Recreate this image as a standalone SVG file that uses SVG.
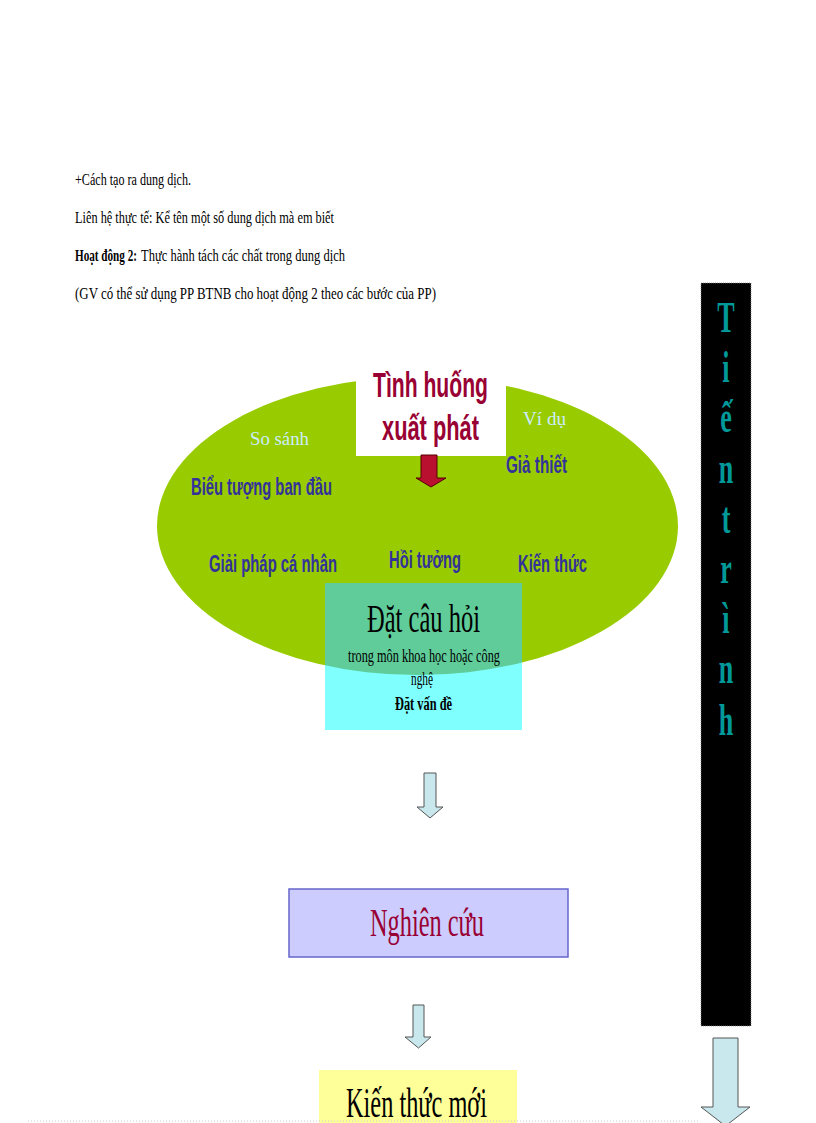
<svg xmlns="http://www.w3.org/2000/svg" width="816" height="1123" viewBox="0 0 816 1123">
<defs>
<style>
.serif{font-family:"Liberation Serif","Times New Roman",serif;}
.narrow{font-family:"Liberation Sans Narrow","Liberation Sans",Arial,sans-serif;font-weight:bold;}
.top{font-size:16.5px;fill:#000;}
.lbl{font-size:23px;fill:#333399;}
.soft{font-size:19px;fill:#CCECFF;}
.arrow{fill:#C8E8EE;stroke:#555;stroke-width:1;}
.letter{font-size:45px;fill:#009999;text-anchor:middle;font-weight:bold;}
</style>
<clipPath id="ellClip"><ellipse cx="417.5" cy="526" rx="260.5" ry="149"/></clipPath>
</defs>
<rect width="816" height="1123" fill="#fff"/>

<g id="intro-text" class="serif top">
<text x="75" y="185" textLength="116" lengthAdjust="spacingAndGlyphs">+Cách tạo ra dung dịch.</text>
<text x="75" y="223" textLength="259" lengthAdjust="spacingAndGlyphs">Liên hệ thực tế: Kể tên một số dung dịch mà em biết</text>
<text x="75" y="261" font-weight="bold" textLength="62" lengthAdjust="spacingAndGlyphs">Hoạt động 2:</text>
<text x="141" y="261" textLength="204" lengthAdjust="spacingAndGlyphs">Thực hành tách các chất trong dung dịch</text>
<text x="75" y="299" textLength="361" lengthAdjust="spacingAndGlyphs">(GV có thể sử dụng PP BTNB cho hoạt động 2 theo các bước của PP)</text>
</g>

<g id="ellipse-node">
<ellipse cx="417.5" cy="526" rx="260.5" ry="149" fill="#99CC00"/>
<text class="serif soft" x="250" y="445" textLength="59" lengthAdjust="spacingAndGlyphs">So sánh</text>
<text class="serif soft" x="523" y="425" textLength="43" lengthAdjust="spacingAndGlyphs">Ví dụ</text>
<text class="narrow lbl" x="191" y="495" textLength="141" lengthAdjust="spacingAndGlyphs">Biểu tượng ban đầu</text>
<text class="narrow lbl" x="506" y="473" textLength="61" lengthAdjust="spacingAndGlyphs">Giả thiết</text>
<text class="narrow lbl" x="209" y="572" textLength="128" lengthAdjust="spacingAndGlyphs">Giải pháp cá nhân</text>
<text class="narrow lbl" x="389" y="568" textLength="72" lengthAdjust="spacingAndGlyphs">Hồi tưởng</text>
<text class="narrow lbl" x="518" y="572" textLength="69" lengthAdjust="spacingAndGlyphs">Kiến thức</text>
</g>

<g id="start-node">
<rect x="356" y="352" width="150" height="104" fill="#fff"/>
<text class="narrow" x="373" y="397" font-size="35" fill="#990033" textLength="115" lengthAdjust="spacingAndGlyphs">Tình huống</text>
<text class="narrow" x="382" y="440" font-size="35" fill="#990033" textLength="97" lengthAdjust="spacingAndGlyphs">xuất phát</text>
</g>

<g id="question-node">
<rect x="325" y="583" width="197" height="147" fill="#80FFFF"/>
<rect x="325" y="583" width="197" height="147" fill="#5FCC99" clip-path="url(#ellClip)"/>
<text class="serif" x="367" y="632" font-size="40" fill="#000" textLength="113" lengthAdjust="spacingAndGlyphs">Đặt câu hỏi</text>
<text class="serif" x="348" y="662" font-size="18" fill="#000" textLength="152" lengthAdjust="spacingAndGlyphs">trong môn khoa học hoặc công</text>
<text class="serif" x="411" y="685" font-size="18" fill="#000" textLength="22" lengthAdjust="spacingAndGlyphs">nghệ</text>
<text class="serif" x="395" y="710" font-size="18" font-weight="bold" fill="#000" textLength="57" lengthAdjust="spacingAndGlyphs">Đặt vấn đề</text>
</g>

<g id="research-node">
<rect x="289" y="889" width="279" height="68" fill="#CCCCFF" stroke="#6666CC" stroke-width="1.5"/>
<text class="serif" x="370" y="936" font-size="40" fill="#990033" textLength="114" lengthAdjust="spacingAndGlyphs">Nghiên cứu</text>
</g>

<g id="knowledge-node">
<rect x="319" y="1070" width="198" height="60" fill="#FFFF99"/>
<text class="serif" x="346" y="1117" font-size="42" fill="#000" textLength="141" lengthAdjust="spacingAndGlyphs">Kiến thức mới</text>
</g>

<g id="process-bar">
<rect x="701" y="283" width="50" height="743" fill="#000" stroke="#888" stroke-width="0.8" stroke-dasharray="1 1"/>
<g class="serif letter" transform="translate(726 0) scale(0.58 1)">
<text x="0" y="332">T</text>
<text x="0" y="382">i</text>
<text x="0" y="432">ế</text>
<text x="0" y="483">n</text>
<text x="0" y="533">t</text>
<text x="0" y="583">r</text>
<text x="0" y="633">ì</text>
<text x="0" y="683">n</text>
<text x="0" y="735">h</text>
</g>
</g>

<g id="connectors">
<polygon points="421,455 437,455 437,478 446,478 431,487 416,478 421,478" fill="#B8102E" stroke="#550000" stroke-width="1"/>
<polygon class="arrow" points="424,773 436,773 436,807 443,807 430,818 417,807 424,807"/>
<polygon class="arrow" points="413,1005 424,1005 424,1037 431,1037 418.5,1048 405,1037 413,1037"/>
<polygon class="arrow" points="713,1038 738,1038 738,1107 750,1107 725.5,1126 701,1107 713,1107"/>
</g>

<line x1="28" y1="1121" x2="700" y2="1121" stroke="#ccc" stroke-width="1" stroke-dasharray="1 2"/>
</svg>
